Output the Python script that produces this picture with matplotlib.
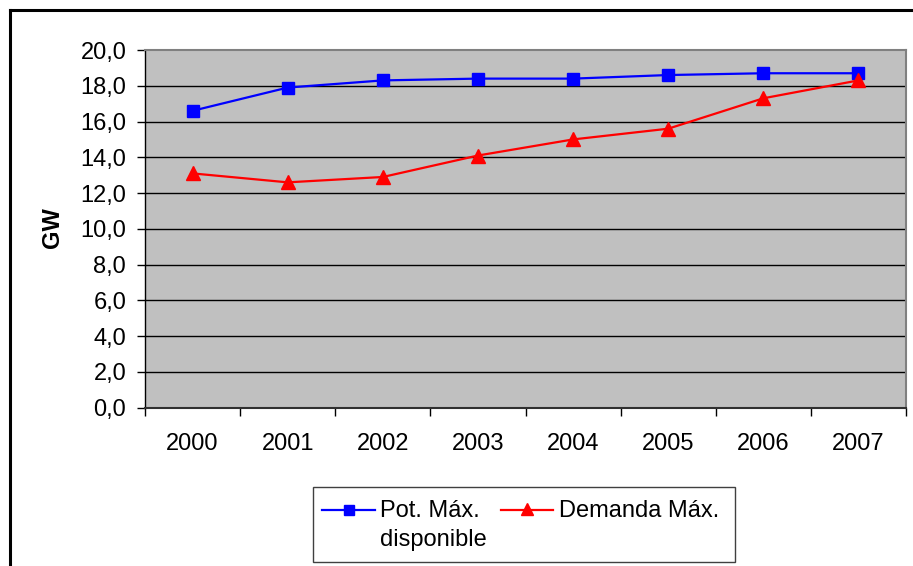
import matplotlib
matplotlib.use("Agg")
import matplotlib.pyplot as plt
from matplotlib.lines import Line2D
from matplotlib.patches import Rectangle
import numpy as np

years = ["2000", "2001", "2002", "2003", "2004", "2005", "2006", "2007"]
pot_max = [16.6, 17.9, 18.3, 18.4, 18.4, 18.6, 18.7, 18.7]
demanda_max = [13.1, 12.6, 12.9, 14.1, 15.0, 15.6, 17.3, 18.3]
y_ticks = [0, 2, 4, 6, 8, 10, 12, 14, 16, 18, 20]
y_label = "GW"
label_pot = ["Pot. Máx.", "disponible"]
label_dem = "Demanda Máx."

W, H = 913, 566
plt.rcParams['font.family'] = ['Liberation Sans', 'DejaVu Sans']
fig = plt.figure(figsize=(W / 100, H / 100), dpi=100)

def fx(px):
    return px / W

def fy(py):
    return 1 - py / H

ax = fig.add_axes([fx(145), fy(407.7), fx(906) - fx(145), fy(50) - fy(407.7)])
ax.set_facecolor("#C0C0C0")

x = np.arange(len(years))
ax.plot(x, pot_max, color="#0000FF", lw=1.6, marker="s", ms=8, zorder=4)
ax.plot(x, demanda_max, color="#FF0000", lw=1.6, marker="^", ms=9.5, zorder=4)

ax.set_xlim(-0.5, len(years) - 0.5)
ax.set_ylim(0, 20)

ax.set_yticks(y_ticks)
ax.set_yticklabels([f"{v:.1f}".replace(".", ",") for v in y_ticks], fontsize=17)
ax.tick_params(axis="y", direction="out", length=5.5, width=1, pad=8, color="black")

ax.set_xticks(np.arange(len(years) + 1) - 0.5)
ax.set_xticklabels([])
ax.tick_params(axis="x", which="major", direction="out", length=5.5, width=1, color="black")
ax.set_xticks(x, minor=True)
ax.set_xticklabels(years, minor=True, fontsize=17)
ax.tick_params(axis="x", which="minor", length=0, pad=18)

for v in y_ticks[1:-1]:
    ax.axhline(v, color="black", lw=1.0, zorder=1)

ax.spines["top"].set_color("#808080")
ax.spines["right"].set_color("#808080")
ax.spines["top"].set_linewidth(1.5)
ax.spines["right"].set_linewidth(1.5)
ax.spines["left"].set_color("black")
ax.spines["bottom"].set_color("#303030")
ax.spines["left"].set_linewidth(1.0)
ax.spines["bottom"].set_linewidth(1.5)

fig.text(fx(52), fy(228), y_label, rotation=90, fontsize=17, fontweight="bold",
         ha="center", va="center")

# outer chart border (top and left visible)
fig.add_artist(Line2D([fx(10), 1.0], [fy(10), fy(10)], color="black", lw=2.2))
fig.add_artist(Line2D([fx(10), fx(10)], [fy(10), 0.0], color="black", lw=2.2))

# legend
fig.add_artist(Rectangle((fx(313), fy(562)), fx(735) - fx(313), fy(487) - fy(562),
                         facecolor="white", edgecolor="#404040", lw=1.0))
fig.add_artist(Line2D([fx(322), fx(375)], [fy(510), fy(510)], color="#0000FF", lw=1.6))
fig.add_artist(Line2D([fx(348.5)], [fy(510)], color="#0000FF", marker="s", ms=7, lw=0))
fig.add_artist(Line2D([fx(501), fx(553)], [fy(510), fy(510)], color="#FF0000", lw=1.6))
fig.add_artist(Line2D([fx(527)], [fy(509)], color="#FF0000", marker="^", ms=8.5, lw=0))
fig.text(fx(380), fy(517), label_pot[0], fontsize=17, ha="left", va="baseline")
fig.text(fx(380), fy(546), label_pot[1], fontsize=17, ha="left", va="baseline")
fig.text(fx(559), fy(517), label_dem, fontsize=17, ha="left", va="baseline")

fig.savefig("out.png", dpi=100)
